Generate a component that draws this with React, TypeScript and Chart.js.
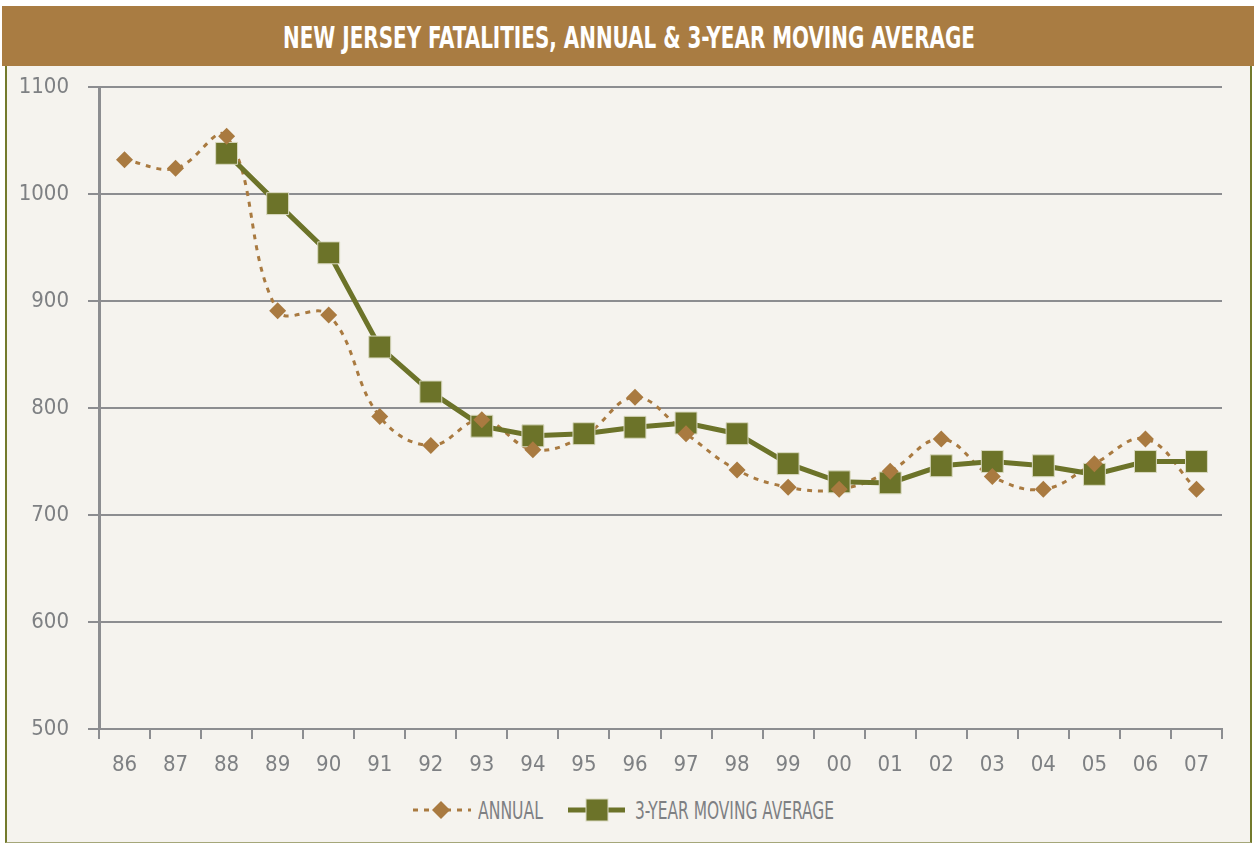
import React, { useEffect, useLayoutEffect, useRef } from "react";
import { Chart, registerables } from "chart.js";

Chart.register(...registerables);

// ---- data ----
const years = ["86", "87", "88", "89", "90", "91", "92", "93", "94", "95", "96", "97", "98", "99", "00", "01", "02", "03", "04", "05", "06", "07"];
const annual = [1032, 1024, 1054, 891, 887, 792, 765, 789, 761, 774, 810, 776, 742, 726, 724, 741, 771, 736, 724, 748, 771, 724];
const movingAverage = [null, null, 1038, 991, 945, 857, 815, 783, 774, 776, 782, 786, 776, 748, 731, 730, 746, 750, 746, 738, 750, 750];
const yTickValues = [500, 600, 700, 800, 900, 1000, 1100];
const hiddenAnnualMarkers = ["95"];

const TITLE = "NEW JERSEY FATALITIES, ANNUAL & 3-YEAR MOVING AVERAGE";
const LEGEND_ANNUAL = "ANNUAL";
const LEGEND_AVG = "3-YEAR MOVING AVERAGE";

// ---- styles ----
const BROWN = "#A97A40";
const OLIVE = "#6C7329";
const GRID = "#8C8D90";
const TEXT = "#7E8083";
const PANEL = "#F5F3EE";
const BAR = "#A97C42";
const FONT = "'Liberation Sans Narrow', 'DejaVu Sans Condensed', 'Noto Sans', sans-serif";

function Squeeze(props: { text: string; width: number; left: number; top: number; size: number; color: string; bold?: boolean; lineHeight: number }) {
  const ref = useRef<HTMLSpanElement>(null);
  useLayoutEffect(() => {
    const el = ref.current;
    if (!el) return;
    el.style.transform = "none";
    const w = el.getBoundingClientRect().width;
    if (w > 0) el.style.transform = `scaleX(${props.width / w})`;
  }, [props.text, props.width]);
  return (
    <span
      ref={ref}
      style={{
        position: "absolute",
        left: props.left,
        top: props.top,
        display: "inline-block",
        whiteSpace: "nowrap",
        fontFamily: FONT,
        fontSize: props.size,
        lineHeight: `${props.lineHeight}px`,
        fontWeight: props.bold ? 700 : 400,
        color: props.color,
        transformOrigin: "left center",
      }}
    >
      {props.text}
    </span>
  );
}

export default function App() {
  const canvasRef = useRef<HTMLCanvasElement>(null);

  useEffect(() => {
    const canvas = canvasRef.current;
    if (!canvas) return;
    const tickFont = { family: FONT, size: 22 };
    const chart = new Chart(canvas, {
      type: "line",
      data: {
        labels: years,
        datasets: [
          {
            label: LEGEND_ANNUAL,
            data: annual,
            borderColor: BROWN,
            borderWidth: 3,
            borderDash: [5, 6],
            tension: 0.4,
            pointRadius: 0,
            fill: false,
            order: 3,
          },
          {
            label: LEGEND_AVG,
            data: movingAverage,
            borderColor: OLIVE,
            borderWidth: 5,
            tension: 0,
            pointStyle: "rect",
            pointRadius: 15.5,
            pointBackgroundColor: OLIVE,
            pointBorderColor: "#D9D9C0",
            pointBorderWidth: 1,
            fill: false,
            order: 2,
          },
          {
            label: LEGEND_ANNUAL + " markers",
            data: annual,
            showLine: false,
            pointStyle: "rectRot",
            pointRadius: years.map((y) => (hiddenAnnualMarkers.includes(y) ? 0 : 8.5)),
            pointBackgroundColor: BROWN,
            pointBorderColor: BROWN,
            pointBorderWidth: 0,
            order: 1,
          },
        ],
      },
      options: {
        animation: false,
        responsive: false,
        maintainAspectRatio: false,
        layout: { autoPadding: false, padding: { top: 21, right: 30, left: 0, bottom: 0 } },
        plugins: {
          legend: { display: false },
          tooltip: { enabled: false },
          title: { display: false },
        },
        scales: {
          x: {
            offset: true,
            grid: {
              offset: true,
              drawOnChartArea: false,
              drawTicks: true,
              tickLength: 10,
              color: GRID,
              lineWidth: 2,
            },
            border: { display: true, color: GRID, width: 2 },
            ticks: { font: tickFont, color: TEXT, padding: 13, maxRotation: 0, autoSkip: false },
            afterFit: (s: any) => {
              s.height = 57;
              s.paddingLeft = 0;
              s.paddingRight = 0;
            },
          },
          y: {
            min: 500,
            max: 1100,
            afterBuildTicks: (s: any) => {
              s.ticks = yTickValues.map((v) => ({ value: v }));
            },
            grid: { color: GRID, lineWidth: 2, tickLength: 11, drawTicks: true },
            border: { display: true, color: GRID, width: 3 },
            ticks: { font: tickFont, color: TEXT, padding: 19, callback: (v: any) => String(v) },
            afterFit: (s: any) => {
              s.width = 94;
              s.paddingTop = 0;
              s.paddingBottom = 0;
            },
          },
        },
      },
    } as any);
    return () => chart.destroy();
  }, []);

  return (
    <div style={{ position: "absolute", left: 0, top: 0, width: 1256, height: 844, background: "#FFFFFF", overflow: "hidden" }}>
      <div style={{ position: "absolute", left: 2, top: 6, width: 1252, height: 60, background: BAR }} />
      <Squeeze text={TITLE} width={692} left={283} top={22} size={31} lineHeight={30} color="#FFFFFF" bold />
      <div
        style={{
          position: "absolute",
          left: 5,
          top: 66,
          width: 1243,
          height: 776,
          background: PANEL,
          borderLeft: "2px solid #737A2C",
          borderRight: "2px solid #737A2C",
          borderBottom: "1px solid #A5A77A",
        }}
      />
      <canvas ref={canvasRef} width={1247} height={720} style={{ position: "absolute", left: 5, top: 66, width: 1247, height: 720 }} />
      <svg style={{ position: "absolute", left: 0, top: 790 }} width={1256} height={40}>
        <line x1={413} y1={20} x2={471} y2={20} stroke={BROWN} strokeWidth={3} strokeDasharray="5 6" />
        <polygon points="441,11 450,20 441,29 432,20" fill={BROWN} />
        <line x1={568} y1={20} x2={625} y2={20} stroke={OLIVE} strokeWidth={5} />
        <rect x={586} y={9} width={22} height={22} fill={OLIVE} stroke="#D9D9C0" strokeWidth={1} />
      </svg>
      <Squeeze text={LEGEND_ANNUAL} width={65} left={478} top={799} size={25} lineHeight={24} color={TEXT} />
      <Squeeze text={LEGEND_AVG} width={199} left={635} top={799} size={25} lineHeight={24} color={TEXT} />
    </div>
  );
}
